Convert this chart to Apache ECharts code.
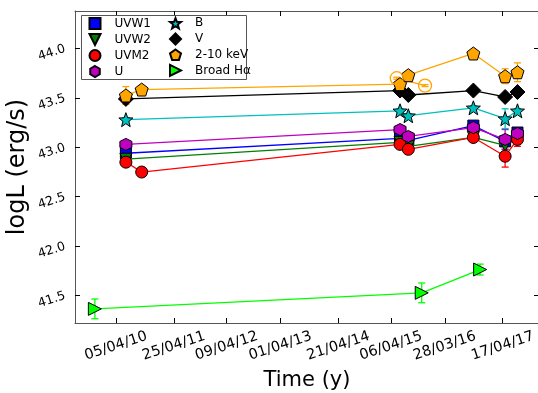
<!DOCTYPE html>
<html><head><meta charset="utf-8">
<script src="https://cdn.jsdelivr.net/npm/echarts@6/dist/echarts.min.js"></script>
<style>html,body{margin:0;padding:0;background:#fff}#c{width:538px;height:393px}</style>
</head><body><div id="c"></div>
<script>
// ---- data ----
const xTickDates = ['2010-04-05','2011-04-25','2012-04-09','2013-04-01','2014-04-21','2015-04-06','2016-03-28','2017-04-17'];
const xTickLabels = ['05/04/10','25/04/11','09/04/12','01/04/13','21/04/14','06/04/15','28/03/16','17/04/17'];
const yTicks = [41.5, 42.0, 42.5, 43.0, 43.5, 44.0];
const xRange = ['2009-07-07', '2017-12-14'];
const yRange = [41.222, 44.38];

const uvotDates = ['2010-06-10','2015-06-05','2015-07-30','2016-10-04','2017-05-03','2017-07-24'];
const longDates = ['2010-06-10','2010-09-23','2015-06-05','2015-07-30','2016-10-04','2017-05-03','2017-07-24'];

const uvw1Values = [42.94, 43.09, 43.07, 43.22, 43.06, 43.15];
const uvw1Errors = [0.03, 0.03, 0.03, 0.03, 0.04, 0.03];
const uvw2Values = [42.88, 43.05, 43.01, 43.10, 43.02, 43.10];
const uvw2Errors = [0.03, 0.03, 0.03, 0.03, 0.04, 0.03];
const uvm2Values = [42.85, 42.75, 43.03, 42.98, 43.10, 42.91, 43.08];
const uvm2Errors = [0.04, 0.02, 0.03, 0.03, 0.03, 0.11, 0.07];
const uValues = [43.03, 43.18, 43.11, 43.20, 43.08, 43.14];
const uErrors = [0.02, 0.02, 0.02, 0.03, 0.10, 0.03];
const bValues = [43.28, 43.37, 43.32, 43.40, 43.29, 43.37];
const bErrors = [0.02, 0.02, 0.02, 0.02, 0.10, 0.02];
const vValues = [43.49, 43.575, 43.53, 43.575, 43.51, 43.56];
const vErrors = [0.02, 0.02, 0.02, 0.02, 0.02, 0.02];
const xrayValues = [43.525, 43.585, 43.64, 43.73, 43.95, 43.72, 43.76];
const xrayErrors = [0.09, 0.02, 0.035, 0.03, 0.02, 0.075, 0.095];
const xrayOpenDates = ['2015-05-14','2015-11-18'];
const xrayOpenValues = [43.70, 43.625];
const xrayOpenErrors = [0.01, 0.01];
const haDates = ['2009-11-16','2015-10-27','2016-11-18'];
const haValues = [41.365, 41.527, 41.763];
const haErrors = [0.10, 0.10, 0.055];

// ---- helpers ----
const ts = s => { const [y,m,d] = s.split('-').map(Number); return Date.UTC(y, m-1, d); };
function starPath(){
  const p=[];
  for(let i=0;i<10;i++){ const r=i%2===0?1:0.42; const a=-Math.PI/2+i*Math.PI/5; p.push((r*Math.cos(a)).toFixed(3)+','+(r*Math.sin(a)).toFixed(3)); }
  return 'path://M'+p.join(' L')+' Z';
}
const SYM = {
  square: 'rect',
  down: 'path://M-1,-1 L1,-1 L0,1 Z',
  circle: 'circle',
  hex: 'path://M0,-1 L0.866,-0.5 L0.866,0.5 L0,1 L-0.866,0.5 L-0.866,-0.5 Z',
  star: starPath(),
  diamond: 'diamond',
  pent: 'path://M0,-1 L0.951,-0.309 L0.588,0.809 L-0.588,0.809 L-0.951,-0.309 Z',
  right: 'path://M-1,-1 L1,0 L-1,1 Z'
};
const FONT = 'DejaVu Sans';

const defs = [
  {name:'UVW1', dates:uvotDates, vals:uvw1Values, errs:uvw1Errors, color:'#0000ff', sym:SYM.square, size:11},
  {name:'UVW2', dates:uvotDates, vals:uvw2Values, errs:uvw2Errors, color:'#007f00', sym:SYM.down, size:12},
  {name:'UVM2', dates:longDates, vals:uvm2Values, errs:uvm2Errors, color:'#ff0000', sym:SYM.circle, size:12},
  {name:'U', dates:uvotDates, vals:uValues, errs:uErrors, color:'#bf00bf', sym:SYM.hex, size:12},
  {name:'B', dates:uvotDates, vals:bValues, errs:bErrors, color:'#00bfbf', sym:SYM.star, size:14},
  {name:'V', dates:uvotDates, vals:vValues, errs:vErrors, color:'#000000', sym:SYM.diamond, size:15},
  {name:'2-10 keV', dates:longDates, vals:xrayValues, errs:xrayErrors, color:'#ffa500', sym:SYM.pent, size:13},
  {name:'Broad Hα', dates:haDates, vals:haValues, errs:haErrors, color:'#00ff00', sym:SYM.right, size:13}
];

function errSeries(dates, vals, errs, color){
  return {
    type:'custom', xAxisIndex:0, yAxisIndex:0, silent:true, z:1,
    data: dates.map((d,i)=>[ts(d), vals[i]-errs[i], vals[i]+errs[i]]),
    encode:{x:0, y:[1,2]},
    renderItem:(params, api)=>{
      const x=api.value(0), lo=api.coord([x, api.value(1)]), hi=api.coord([x, api.value(2)]);
      const st={stroke:color, lineWidth:1.3};
      return {type:'group', children:[
        {type:'line', shape:{x1:lo[0],y1:lo[1],x2:hi[0],y2:hi[1]}, style:st},
        {type:'line', shape:{x1:lo[0]-3.5,y1:lo[1],x2:lo[0]+3.5,y2:lo[1]}, style:st},
        {type:'line', shape:{x1:hi[0]-3.5,y1:hi[1],x2:hi[0]+3.5,y2:hi[1]}, style:st}
      ]};
    }
  };
}

const series = [];
defs.forEach((s,k)=>{
  series.push(errSeries(s.dates, s.vals, s.errs, s.color));
  series.push({
    name:s.name, type:'line', z:2+k, symbol:s.sym, symbolSize:s.size, showSymbol:true,
    data: s.dates.map((d,i)=>[ts(d), s.vals[i]]),
    itemStyle:{color:s.color, borderColor:'#000', borderWidth:1},
    lineStyle:{color:s.color, width:1.3},
    emphasis:{disabled:true}
  });
  if (s.name === '2-10 keV') {
    series.push(errSeries(xrayOpenDates, xrayOpenValues, xrayOpenErrors, '#ffa500'));
    series.push({
      name:'xray-open', type:'line', z:2+k, symbol:'circle', symbolSize:13, showSymbol:true,
      data: xrayOpenDates.map((d,i)=>[ts(d), xrayOpenValues[i]]),
      itemStyle:{color:'rgba(255,255,255,0)', borderColor:'#ffa500', borderWidth:1.3},
      lineStyle:{color:'#ffa500', width:1.3},
      emphasis:{disabled:true}
    });
  }
});

const xTickVals = xTickDates.map(ts);
const axisLineStyle = {color:'#555', width:1};
const legendCommon = {
  orient:'vertical', padding:0, itemWidth:11, itemHeight:11, itemGap:3, top:17,
  selectedMode:false,
  textStyle:{fontFamily:FONT, fontSize:12, lineHeight:12, color:'#000', padding:[0,0,0,9]}
};

const chart = echarts.init(document.getElementById('c'), null, {renderer:'canvas'});
chart.setOption({
  animation:false,
  backgroundColor:'#fff',
  grid:{left:75, right:-1, top:11, bottom:70, containLabel:false, outerBoundsMode:'none'},
  graphic:[{type:'rect', left:81, top:15, shape:{width:165, height:64}, style:{fill:'#fff', stroke:'#555', lineWidth:1}, z:50}],
  legend:[
    Object.assign({left:88.5, z:60, data:defs.slice(0,4).map(d=>({name:d.name, icon:d.sym}))}, legendCommon),
    Object.assign({left:169, z:60, data:defs.slice(4).map(d=>({name:d.name, icon:d.sym}))}, legendCommon)
  ],
  xAxis:[
    {type:'value', position:'bottom', min:ts(xRange[0]), max:ts(xRange[1]),
     name:'Time (y)', nameLocation:'middle', nameGap:47, nameMoveOverlap:false,
     nameTextStyle:{fontFamily:FONT, fontSize:21, color:'#000'},
     axisLine:{show:true, lineStyle:axisLineStyle},
     axisTick:{show:true, inside:true, length:5, customValues:xTickVals, lineStyle:{color:'#000'}},
     axisLabel:{show:true, customValues:xTickVals, rotate:18, align:'center', verticalAlign:'middle', margin:23,
       fontFamily:FONT, fontSize:14.5, color:'#000',
       formatter:v=>{ const i=xTickVals.indexOf(v); return i>=0?xTickLabels[i]:''; }},
     splitLine:{show:false}},
    {type:'value', position:'top', min:ts(xRange[0]), max:ts(xRange[1]),
     axisLine:{show:true, lineStyle:axisLineStyle},
     axisTick:{show:true, inside:true, length:5, customValues:xTickVals, lineStyle:{color:'#000'}},
     axisLabel:{show:false}, splitLine:{show:false}}
  ],
  yAxis:[
    {type:'value', position:'left', min:yRange[0], max:yRange[1],
     name:'logL (erg/s)', nameLocation:'middle', nameGap:45, nameRotate:90, nameMoveOverlap:false,
     nameTextStyle:{fontFamily:FONT, fontSize:24, color:'#000'},
     axisLine:{show:true, lineStyle:axisLineStyle},
     axisTick:{show:true, inside:true, length:5, customValues:yTicks, lineStyle:{color:'#000'}},
     axisLabel:{show:true, customValues:yTicks, rotate:18, margin:10, fontFamily:FONT, fontSize:12.5, color:'#000',
       formatter:v=>v.toFixed(1)},
     splitLine:{show:false}},
    {type:'value', position:'right', min:yRange[0], max:yRange[1],
     axisLine:{show:true, lineStyle:axisLineStyle},
     axisTick:{show:true, inside:true, length:5, customValues:yTicks, lineStyle:{color:'#000'}},
     axisLabel:{show:false}, splitLine:{show:false}}
  ],
  series: series
});
</script></body></html>
